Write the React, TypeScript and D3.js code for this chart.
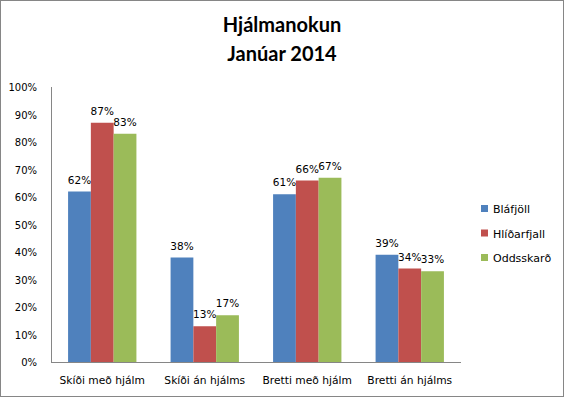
import React from "react";
import * as d3 from "d3";

const categories = ["Skíði með hjálm", "Skíði án hjálms", "Bretti með hjálm", "Bretti án hjálms"];
const seriesNames = ["Bláfjöll", "Hlíðarfjall", "Oddsskarð"];
const blafjoll = [0.62, 0.38, 0.61, 0.39];
const hlidarfjall = [0.87, 0.13, 0.66, 0.34];
const oddsskard = [0.83, 0.17, 0.67, 0.33];
const colors = ["#4F81BD", "#C0504D", "#9BBB59"];
const yTicks = [0, 0.1, 0.2, 0.3, 0.4, 0.5, 0.6, 0.7, 0.8, 0.9, 1.0];
const titleLines = ["Hjálmanokun", "Janúar 2014"];

const W = 564, H = 397;
const plot = { left: 51, right: 461, top: 87, bottom: 362 };
const font = "'DejaVu Sans', Verdana, sans-serif";

export default function App() {
  const series = [blafjoll, hlidarfjall, oddsskard];
  const x0 = d3.scaleBand<string>().domain(categories).range([plot.left, plot.right]).paddingInner(1.5 / 4.5).paddingOuter(0.75 / 4.5);
  const x1 = d3.scaleBand<string>().domain(seriesNames).range([0, x0.bandwidth()]);
  const y = d3.scaleLinear().domain([0, 1]).range([plot.bottom, plot.top]);
  const fmt = d3.format(".0%");

  return (
    <svg width={W} height={H} style={{ position: "absolute", left: 0, top: 0, background: "#fff" }}>
      <rect x={0.5} y={0.5} width={W - 1} height={H - 1} fill="#fff" stroke="#868686" strokeWidth={1} />
      {titleLines.map((t, i) => (
        <text key={t} x={282} y={32 + i * 29} textAnchor="middle" fontFamily="Lato, 'Open Sans', sans-serif" fontWeight="bold" fontSize={20} fill="#000">{t}</text>
      ))}
      {yTicks.map((t) => (
        <text key={t} x={37} y={y(t) + 4} textAnchor="end" fontFamily={font} fontSize={10} fill="#000">{fmt(t)}</text>
      ))}
      {series.map((vals, si) =>
        categories.map((c, ci) => {
          const bx = (x0(c) as number) + (x1(seriesNames[si]) as number);
          const v = vals[ci];
          return (
            <g key={c + si}>
              <rect x={bx} y={y(v)} width={x1.bandwidth()} height={plot.bottom - y(v)} fill={colors[si]} />
              <text x={bx + x1.bandwidth() / 2} y={y(v) - 8} textAnchor="middle" fontFamily={font} fontSize={10.5} fill="#000">{fmt(v)}</text>
            </g>
          );
        })
      )}
      <line x1={plot.left + 0.5} x2={plot.left + 0.5} y1={plot.top} y2={plot.bottom} stroke="#868686" />
      <line x1={plot.left} x2={plot.right} y1={plot.bottom + 0.5} y2={plot.bottom + 0.5} stroke="#868686" />
      {categories.map((c) => (
        <text key={c} x={(x0(c) as number) + x0.bandwidth() / 2} y={384} textAnchor="middle" fontFamily={font} fontSize={10.7} fill="#000">{c}</text>
      ))}
      {seriesNames.map((s, i) => (
        <g key={s} transform={`translate(481,${205 + i * 24.5})`}>
          <rect x={0} y={0} width={7} height={7} fill={colors[i]} />
          <text x={12} y={8} fontFamily={font} fontSize={11} fill="#000">{s}</text>
        </g>
      ))}
    </svg>
  );
}
